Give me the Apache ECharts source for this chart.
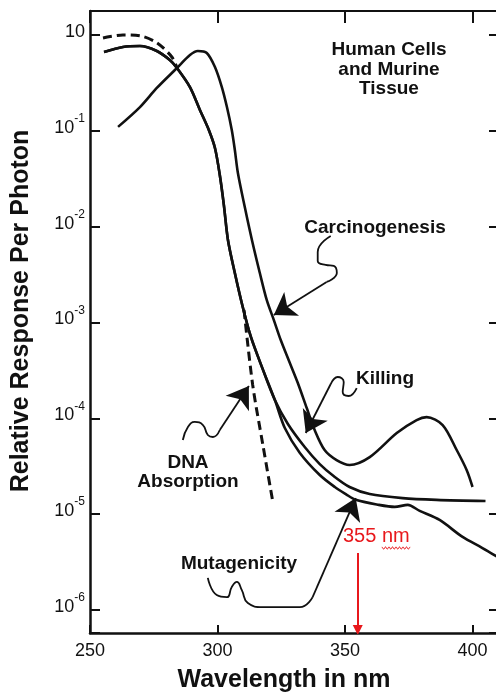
<!DOCTYPE html>
<html>
<head>
<meta charset="utf-8">
<script src="https://cdn.jsdelivr.net/npm/echarts@6/dist/echarts.min.js"></script>
<style>
  html, body { margin: 0; padding: 0; background: #ffffff; }
  #chart { width: 496px; height: 693px; }
</style>
</head>
<body>
<div id="chart"></div>
<script>
// Axis ticks: wavelength (nm) and response decades
const xTicks = [250, 300, 350, 400];
const yDecades = [1, 1e-1, 1e-2, 1e-3, 1e-4, 1e-5, 1e-6];
const yExponents = ['', '-1', '-2', '-3', '-4', '-5', '-6'];

// Action spectra: [wavelength nm, relative response per photon]
const carcinogenesis = [
  [261.0, 0.110], [269.6, 0.177], [276.2, 0.280], [284.1, 0.453], [289.2, 0.618],
  [292.3, 0.681], [295.8, 0.649], [299.0, 0.463], [301.7, 0.286], [303.7, 0.177],
  [305.6, 0.102], [306.8, 0.0631], [308.0, 0.0363], [310.7, 0.0160], [313.5, 0.00726],
  [316.6, 0.00328], [319.3, 0.00172], [322.1, 0.00106], [324.8, 6.56e-4], [327.9, 4.06e-4],
  [331.5, 2.34e-4], [335.0, 1.28e-4], [338.1, 7.55e-5], [342.0, 4.67e-5], [346.7, 3.67e-5],
  [351.8, 3.26e-5], [359.7, 3.94e-5], [370.3, 7.03e-5], [378.1, 9.59e-5], [382.0, 1.03e-4],
  [388.3, 8.51e-5], [393.8, 4.67e-5], [397.7, 2.89e-5], [400.0, 1.92e-5]
];

const killing = [
  [255.5, 0.665], [262.9, 0.750], [269.6, 0.767], [276.2, 0.681], [281.3, 0.548],
  [284.1, 0.453], [289.2, 0.286], [293.1, 0.165], [296.6, 0.102], [299.0, 0.0662],
  [300.9, 0.0346], [302.5, 0.0168], [304.1, 0.00726], [306.8, 0.00328], [309.9, 0.00145],
  [313.1, 7.06e-4], [317.4, 3.44e-4], [322.5, 1.55e-4], [327.6, 8.73e-5], [334.2, 5.02e-5],
  [340.1, 3.33e-5], [346.0, 2.44e-5], [351.8, 1.92e-5], [359.7, 1.62e-5], [372.6, 1.47e-5],
  [385.9, 1.41e-5], [405.1, 1.37e-5]
];

const mutagenicity = [
  [255.5, 0.665], [262.9, 0.750], [269.6, 0.767], [276.2, 0.681], [281.3, 0.548],
  [284.1, 0.453], [289.2, 0.286], [293.1, 0.165], [296.6, 0.102], [299.0, 0.0662],
  [300.9, 0.0346], [302.5, 0.0168], [304.1, 0.00726], [306.8, 0.00328], [309.9, 0.00145],
  [313.1, 7.06e-4], [317.4, 3.44e-4], [322.5, 1.55e-4], [326.4, 7.92e-5], [332.3, 4.35e-5],
  [340.1, 2.56e-5], [346.0, 1.92e-5], [350.3, 1.62e-5], [354.2, 1.41e-5], [363.2, 1.25e-5],
  [369.5, 1.19e-5], [374.6, 1.25e-5], [379.3, 1.08e-5], [387.1, 8.69e-6], [396.1, 5.78e-6],
  [403.9, 4.43e-6], [409.8, 3.57e-6]
];

// DNA absorption (dashed); the gap is where it runs along the cell curves
const dnaAbsorption = [
  [255.1, 0.93], [262.9, 1.0], [269.6, 0.98], [276.2, 0.83], [282.1, 0.59], [284.0, 0.46],
  [297.0, '-'],
  [310.4, 0.00135], [313.8, 2.23e-4], [317.8, 5.27e-5], [321.7, 1.34e-5]
];

// Marked wavelength
const markedNm = 355;

// Leader lines from the labels to the curves, in data units
const carcinoLeader = [[344.4, 8.0e-3], [339.3, 5.44e-3], [339.3, 4.38e-3], [342.4, 3.98e-3], [345.6, 3.89e-3], [346.8, 3.28e-3], [342.8, 2.65e-3]];
const carcinoArrow = [[342.8, 2.65e-3], [322.1, 1.20e-3]];
const killingLeader = [[354.6, 2.07e-4], [351.4, 1.71e-4], [349.1, 1.88e-4], [349.5, 2.39e-4], [347.1, 2.70e-4], [344.4, 2.28e-4]];
const killingArrow = [[344.4, 2.28e-4], [334.6, 7.03e-5]];
const dnaLeader = [[286.4, 5.94e-5], [288.4, 8.11e-5], [291.1, 9.16e-5], [294.3, 8.51e-5], [296.2, 6.70e-5], [298.2, 6.38e-5], [300.9, 7.55e-5]];
const dnaArrow = [[300.9, 7.55e-5], [312.3, 2.17e-4]];
const mutaLeader = [[296.2, 2.16e-6], [299.7, 1.43e-6], [303.7, 1.36e-6], [305.6, 1.74e-6], [307.6, 1.96e-6], [309.5, 1.62e-6], [311.9, 1.18e-6], [317.8, 1.07e-6], [332.3, 1.07e-6], [337.3, 1.36e-6]];
const mutaArrow = [[337.3, 1.36e-6], [354.2, 1.47e-5]];
const markerSpan = [3.94e-6, 6.18e-7];

const FONT = '"Liberation Sans", Arial, Helvetica, sans-serif';
const INK = '#111111';
const RED = '#e8181c';

const chart = echarts.init(document.getElementById('chart'), null, { renderer: 'canvas' });

function curve(name, data, dashed) {
  return {
    name: name, type: 'line', data: data, smooth: 0.3, showSymbol: false, symbol: 'none',
    connectNulls: false, silent: true,
    lineStyle: { color: INK, width: dashed ? 3 : 2.6, type: dashed ? [9, 5] : 'solid', cap: 'butt' }
  };
}
function leader(data) {
  return {
    type: 'line', data: data, smooth: 0.5, showSymbol: false, symbol: 'none', silent: true,
    lineStyle: { color: INK, width: 1.8 }
  };
}

const yLabelFormatter = function (v) {
  const i = yDecades.findIndex(d => Math.abs(Math.log10(d) - Math.log10(v)) < 0.01);
  if (i < 0) return '';
  return yExponents[i] ? '{b|10}{e|' + yExponents[i] + '}' : '{b|10}';
};

const squiggle = [];
for (let i = 0; i <= 16; i++) squiggle.push([382 + i * 1.75, 548 + (i % 2 ? 1.1 : -1.1)]);

const textStyle = (txt, size, extra) => Object.assign({
  text: txt, font: 'bold ' + size + 'px ' + FONT, fill: INK,
  align: 'center', verticalAlign: 'middle', textAlign: 'center', textVerticalAlign: 'middle'
}, extra || {});

chart.setOption({
  animation: false,
  backgroundColor: '#ffffff',
  grid: { left: 90, top: 11, right: -2, bottom: 60, containLabel: false, outerBoundsMode: 'none' },
  xAxis: [
    {
      type: 'value', min: xTicks[0], max: 410, interval: 50, position: 'bottom',
      axisLine: { lineStyle: { color: INK, width: 2.5 } },
      axisTick: { inside: true, length: 8, lineStyle: { color: INK, width: 2 } },
      axisLabel: { showMaxLabel: false, fontSize: 18, fontFamily: FONT, color: INK, margin: 9 },
      splitLine: { show: false }
    },
    {
      type: 'value', min: xTicks[0], max: 410, interval: 50, position: 'top',
      axisLine: { lineStyle: { color: INK, width: 2.2 } },
      axisTick: { inside: true, length: 12, lineStyle: { color: INK, width: 2 } },
      axisLabel: { show: false }, splitLine: { show: false }
    }
  ],
  yAxis: [
    {
      type: 'log', logBase: 10, min: 5.75e-7, max: 1.78, position: 'left',
      axisLine: { lineStyle: { color: INK, width: 2.5 } },
      axisTick: { inside: true, length: 10, lineStyle: { color: INK, width: 2 } },
      axisLabel: {
        formatter: yLabelFormatter, margin: 5, padding: [0, 0, 6, 0],
        rich: {
          b: { fontSize: 18, lineHeight: 30, verticalAlign: 'middle', fontFamily: FONT, color: INK },
          e: { fontSize: 12, lineHeight: 12, verticalAlign: 'top', fontFamily: FONT, color: INK }
        }
      },
      splitLine: { show: false }, minorTick: { show: false }
    },
    {
      type: 'log', logBase: 10, min: 5.75e-7, max: 1.78, position: 'right',
      axisLine: { lineStyle: { color: INK, width: 2.5 } },
      axisTick: { inside: true, length: 9, lineStyle: { color: INK, width: 2 } },
      axisLabel: { show: false }, splitLine: { show: false }
    }
  ],
  series: [
    curve('Carcinogenesis', carcinogenesis),
    curve('Killing', killing),
    curve('Mutagenicity', mutagenicity),
    curve('DNA Absorption', dnaAbsorption, true),
    leader(carcinoLeader),
    leader(killingLeader),
    leader(dnaLeader),
    leader(mutaLeader),
    {
      type: 'lines', coordinateSystem: 'cartesian2d', silent: true,
      symbol: ['none', 'arrow'], symbolSize: 21,
      lineStyle: { color: INK, width: 1.8, curveness: 0, opacity: 1 },
      data: [
        { coords: carcinoArrow }, { coords: killingArrow },
        { coords: dnaArrow }, { coords: mutaArrow }
      ]
    },
    {
      type: 'lines', coordinateSystem: 'cartesian2d', silent: true,
      symbol: ['none', 'triangle'], symbolSize: 10,
      lineStyle: { color: RED, width: 2, curveness: 0, opacity: 1 },
      data: [{ coords: [[markedNm, markerSpan[0]], [markedNm, markerSpan[1]]] }]
    }
  ],
  graphic: [
    { type: 'text', x: 21, y: 311, rotation: Math.PI / 2, style: textStyle('Relative Response Per Photon', 25) },
    { type: 'text', x: 284, y: 680, style: textStyle('Wavelength in nm', 25) },
    { type: 'text', x: 389, y: 69.5, style: textStyle('Human Cells\nand Murine\nTissue', 19, { lineHeight: 19.5 }) },
    { type: 'text', x: 375, y: 228, style: textStyle('Carcinogenesis', 19) },
    { type: 'text', x: 385, y: 379, style: textStyle('Killing', 19) },
    { type: 'text', x: 188, y: 472.5, style: textStyle('DNA\nAbsorption', 19, { lineHeight: 19 }) },
    { type: 'text', x: 239, y: 564, style: textStyle('Mutagenicity', 19) },
    {
      type: 'text', x: 343, y: 536,
      style: { text: markedNm + ' nm', font: '20px ' + FONT, fill: RED, align: 'left', verticalAlign: 'middle', textAlign: 'left', textVerticalAlign: 'middle' }
    },
    { type: 'polyline', shape: { points: squiggle, smooth: 0.4 }, style: { stroke: RED, lineWidth: 1, fill: null } }
  ]
});
</script>
</body>
</html>
